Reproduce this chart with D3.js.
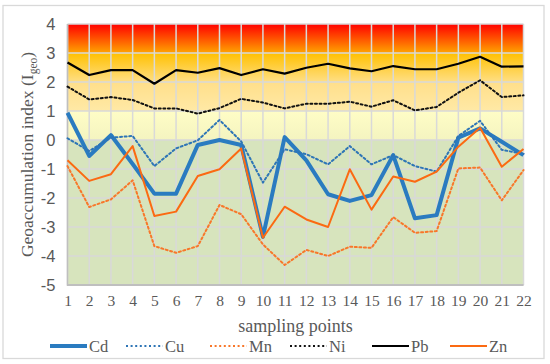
<!DOCTYPE html>
<html>
<head>
<meta charset="utf-8">
<script src="https://cdn.jsdelivr.net/npm/d3@7"></script>
<style>
body{margin:0;background:#fff;}
</style>
</head>
<body>
<div id="chart"></div>
<script>
var width = 550, height = 364;
var margin = {top: 24, right: 26.5, bottom: 79, left: 67.5};

var points = d3.range(1, 23);
var yTicks = [4,3,2,1,0,-1,-2,-3,-4,-5];
var Cd = [0.94,-0.55,0.17,-0.83,-1.85,-1.85,-0.17,0.0,-0.17,-3.34,0.1,-0.7,-1.87,-2.1,-1.9,-0.52,-2.7,-2.59,0.08,0.4,-0.06,-0.52];
var Cu = [0.06,-0.38,0.08,0.14,-0.9,-0.29,-0.01,0.69,-0.05,-1.47,-0.32,-0.49,-0.84,-0.21,-0.84,-0.52,-0.9,-1.09,0.14,0.66,-0.34,-0.48];
var Mn = [-0.9,-2.31,-2.05,-1.39,-3.66,-3.89,-3.66,-2.24,-2.56,-3.6,-4.31,-3.79,-4.0,-3.68,-3.72,-2.66,-3.2,-3.14,-0.98,-0.95,-2.08,-1.04];
var Ni = [1.84,1.4,1.48,1.38,1.09,1.09,0.91,1.1,1.42,1.29,1.09,1.25,1.25,1.32,1.15,1.37,1.02,1.14,1.63,2.06,1.48,1.54];
var Pb = [2.67,2.24,2.41,2.41,1.94,2.41,2.32,2.48,2.24,2.44,2.29,2.49,2.63,2.47,2.37,2.55,2.44,2.44,2.63,2.87,2.53,2.54];
var Zn = [-0.7,-1.41,-1.18,-0.21,-2.62,-2.47,-1.24,-1.01,-0.29,-3.37,-2.3,-2.74,-3.0,-1.01,-2.4,-1.26,-1.44,-1.09,-0.23,0.42,-0.92,-0.31];

var series = [
  {name:"Cd", values:Cd, color:"#2a7bc0", w:4, dash:null},
  {name:"Cu", values:Cu, color:"#2e75b6", w:2, dash:"2,2.6"},
  {name:"Mn", values:Mn, color:"#f8772a", w:2, dash:"2,2.6"},
  {name:"Ni", values:Ni, color:"#111111", w:2, dash:"2,2.6"},
  {name:"Pb", values:Pb, color:"#000000", w:2.2, dash:null},
  {name:"Zn", values:Zn, color:"#fb6a12", w:2, dash:null}
];
// background classes of Igeo: [from, to, topColor, bottomColor]
var bands = [
  [4,3,"#ff0000","#ffa400"],
  [3,2,"#ffc000","#ffdf85"],
  [2,1,"#ffdf8a","#ffe9a6"],
  [1,0,"#fffdc6","#f4f4c0"],
  [0,-5,"#d7e4bd","#d7e4bd"]
];

var svg = d3.select("#chart").append("svg")
  .attr("width", width).attr("height", height);

// outer frame
svg.append("rect").attr("x",3).attr("y",5.5).attr("width",541).attr("height",353)
  .attr("fill","#fff").attr("stroke","#d9d9d9").attr("stroke-width",1.3);

var x = d3.scaleLinear().domain([1,22]).range([margin.left, width - margin.right]);
var y = d3.scaleLinear().domain([-5,4]).range([height - margin.bottom, margin.top]);

var defs = svg.append("defs");
bands.forEach(function(b,i){
  var g = defs.append("linearGradient").attr("id","band"+i)
    .attr("x1",0).attr("y1",0).attr("x2",0).attr("y2",1);
  g.append("stop").attr("offset","0%").attr("stop-color",b[2]);
  g.append("stop").attr("offset","100%").attr("stop-color",b[3]);
});

svg.selectAll(".band").data(bands).join("rect")
  .attr("x", x(1)).attr("width", x(22)-x(1))
  .attr("y", function(d){ return y(d[0]); })
  .attr("height", function(d){ return y(d[1]) - y(d[0]); })
  .attr("fill", function(d,i){ return "url(#band"+i+")"; });

// grid
svg.append("g").selectAll("line").data(points).join("line")
  .attr("x1", function(d){ return x(d); }).attr("x2", function(d){ return x(d); })
  .attr("y1", y(4)).attr("y2", y(-5))
  .attr("stroke","#d9d9d9").attr("stroke-width",1.5);
svg.append("g").selectAll("line").data(yTicks).join("line")
  .attr("x1", x(1)).attr("x2", x(22))
  .attr("y1", function(d){ return y(d); }).attr("y2", function(d){ return y(d); })
  .attr("stroke","#d9d9d9").attr("stroke-width",1.5);

// axis lines
svg.append("line").attr("x1",x(1)).attr("x2",x(1)).attr("y1",y(4)).attr("y2",y(-5)+1)
  .attr("stroke","#bfbfbf").attr("stroke-width",1.5);
svg.append("line").attr("x1",x(1)).attr("x2",x(22)).attr("y1",y(-5)).attr("y2",y(-5))
  .attr("stroke","#bfbfbf").attr("stroke-width",2);

// y axis labels
var yAxis = svg.append("g").attr("transform","translate(" + (x(1)-12) + ",0)")
  .call(d3.axisLeft(y).tickValues(yTicks).tickSize(0).tickPadding(0).tickFormat(d3.format("")));
yAxis.select(".domain").remove();
yAxis.selectAll("text").attr("font-family","'Liberation Sans', Arial, sans-serif")
  .attr("font-size",16.5).attr("fill","#595959").text(function(d){ return d < 0 ? "-" + Math.abs(d) : d; });

// x axis labels
var xAxis = svg.append("g").attr("transform","translate(0," + (y(-5)+10) + ")")
  .call(d3.axisBottom(x).tickValues(points).tickSize(0).tickPadding(0).tickFormat(d3.format("d")));
xAxis.select(".domain").remove();
xAxis.selectAll("text").attr("font-family","'Liberation Serif', 'Times New Roman', serif")
  .attr("font-size",15.5).attr("fill","#595959");

svg.append("text").attr("x",(x(1)+x(22))/2).attr("y",332)
  .attr("text-anchor","middle").attr("font-family","'Liberation Serif', serif")
  .attr("font-size",18).attr("fill","#595959").text("sampling points");

var yt = svg.append("text").attr("transform","translate(33," + ((y(4)+y(-5))/2) + ") rotate(-90)")
  .attr("text-anchor","middle").attr("font-family","'Liberation Serif', serif")
  .attr("font-size",17.5).attr("fill","#595959");
yt.append("tspan").text("Geoaccumulation index (I");
yt.append("tspan").attr("font-size",11.5).attr("dy",4).text("geo");
yt.append("tspan").attr("dy",-4).text(")");

// lines
var line = d3.line().x(function(d,i){ return x(points[i]); }).y(function(d){ return y(d); });
svg.selectAll(".series").data(series).join("path")
  .attr("fill","none")
  .attr("stroke", function(d){ return d.color; })
  .attr("stroke-width", function(d){ return d.w; })
  .attr("stroke-dasharray", function(d){ return d.dash; })
  .attr("stroke-linecap", function(d){ return d.dash ? "round" : "butt"; })
  .attr("stroke-linejoin","round")
  .attr("d", function(d){ return line(d.values); });

// legend
var legX = [50, 126, 210, 290, 372, 450];
var leg = svg.selectAll(".leg").data(series).join("g")
  .attr("transform", function(d,i){ return "translate(" + legX[i] + ",346)"; });
leg.append("line").attr("x1",0).attr("x2",37).attr("y1",0).attr("y2",0)
  .attr("stroke", function(d){ return d.color; })
  .attr("stroke-width", function(d){ return d.w; })
  .attr("stroke-dasharray", function(d){ return d.dash; });
leg.append("text").attr("x",39).attr("y",5.5)
  .attr("font-family","'Liberation Serif', serif").attr("font-size",16.5).attr("fill","#595959")
  .text(function(d){ return d.name; });
</script>
</body>
</html>
